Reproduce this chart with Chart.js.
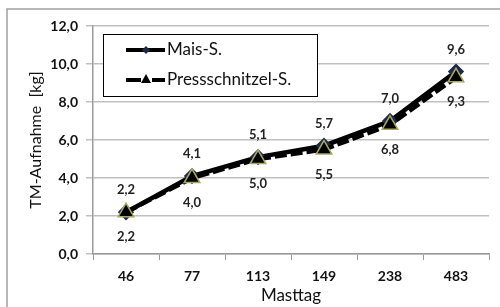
<!DOCTYPE html>
<html>
<head>
<meta charset="utf-8">
<script src="https://cdn.jsdelivr.net/npm/chart.js@4"></script>
<style>
  html, body { margin: 0; padding: 0; background: #fff; }
  #wrap { width: 500px; height: 307px; }
</style>
</head>
<body>
<div id="wrap"><canvas id="tmChart"></canvas></div>
<script>
const masttage = ["46", "77", "113", "149", "238", "483"];
const maisValues = [2.2, 4.1, 5.1, 5.7, 7.0, 9.6];
const pressValues = [2.2, 4.0, 5.0, 5.5, 6.8, 9.3];
const yTicks = [0, 2, 4, 6, 8, 10, 12];

const fmt = (v) => v.toFixed(1).replace(".", ",");
const fontFamily = "Lato, 'Open Sans', sans-serif";

// white background + the grey frame (top and left edge only)
const framePlugin = {
  id: "frame",
  beforeDraw(chart) {
    const ctx = chart.ctx;
    ctx.save();
    ctx.fillStyle = "#fff";
    ctx.fillRect(0, 0, chart.width, chart.height);
    ctx.strokeStyle = "#a0a0a0";
    ctx.lineWidth = 1.5;
    ctx.beginPath();
    ctx.moveTo(7, chart.height);
    ctx.lineTo(7, 9);
    ctx.lineTo(chart.width, 9);
    ctx.stroke();
    ctx.restore();
  },
};

// value labels: first series above the point, second below
const valueLabels = {
  id: "valueLabels",
  afterDatasetsDraw(chart) {
    const ctx = chart.ctx;
    ctx.save();
    ctx.font = "bold 13px " + fontFamily;
    ctx.fillStyle = "#222";
    ctx.textAlign = "center";
    ctx.textBaseline = "middle";
    chart.data.datasets.forEach((ds, i) => {
      const meta = chart.getDatasetMeta(i);
      meta.data.forEach((pt, j) => {
        const dy = ds.labelBelow ? 25 : -22;
        ctx.fillText(fmt(ds.data[j]), pt.x, pt.y + dy);
      });
    });
    ctx.restore();
  },
};

// legend box inside the plot, like the Excel original
const boxLegend = {
  id: "boxLegend",
  afterDraw(chart) {
    const ctx = chart.ctx;
    const x0 = 103, y0 = 34, w = 214, h = 62;
    ctx.save();
    ctx.fillStyle = "#fff";
    ctx.fillRect(x0, y0, w, h);
    ctx.strokeStyle = "#000";
    ctx.lineWidth = 1;
    ctx.strokeRect(x0 + 0.5, y0 + 0.5, w, h);

    const rows = [chart.data.datasets[0], chart.data.datasets[1]];
    const rowY = [50, 80];
    rows.forEach((ds, i) => {
      const y = rowY[i];
      ctx.strokeStyle = "#000";
      ctx.lineWidth = 4;
      ctx.beginPath();
      if (ds.borderDash) {
        ctx.moveTo(126, y); ctx.lineTo(141, y);
        ctx.moveTo(152, y); ctx.lineTo(165, y);
      } else {
        ctx.moveTo(126, y); ctx.lineTo(165, y);
      }
      ctx.stroke();
      ctx.fillStyle = ds.pointBackgroundColor;
      ctx.beginPath();
      if (ds.pointStyle === "triangle") {
        ctx.moveTo(146, y - 6); ctx.lineTo(151, y + 3); ctx.lineTo(141, y + 3);
      } else {
        ctx.moveTo(146, y - 4); ctx.lineTo(150, y); ctx.lineTo(146, y + 4); ctx.lineTo(142, y);
      }
      ctx.closePath();
      ctx.fill();

      ctx.fillStyle = "#111";
      ctx.font = "17px " + fontFamily;
      ctx.textAlign = "left";
      ctx.textBaseline = "middle";
      ctx.fillText(ds.label, 167, y);
    });
    ctx.restore();
  },
};

new Chart(document.getElementById("tmChart").getContext("2d"), {
  type: "line",
  data: {
    labels: masttage,
    datasets: [
      {
        label: "Mais-S.",
        data: maisValues,
        borderColor: "#000",
        borderWidth: 4.5,
        pointStyle: "rectRot",
        pointRadius: 5,
        pointBackgroundColor: "#1c2a4a",
        pointBorderColor: "#1c2a4a",
        order: 1,
      },
      {
        label: "Pressschnitzel-S.",
        data: pressValues,
        borderColor: "#000",
        borderWidth: 4.5,
        borderDash: [12, 4],
        pointStyle: "triangle",
        pointRadius: 9,
        pointBackgroundColor: "#000",
        pointBorderColor: "#a8a860",
        pointBorderWidth: 1.5,
        labelBelow: true,
        order: 0,
      },
    ],
  },
  options: {
    responsive: true,
    maintainAspectRatio: false,
    animation: false,
    layout: { padding: { left: 22, right: 11, top: 26, bottom: 0 } },
    plugins: {
      legend: { display: false },
      tooltip: { enabled: false },
    },
    scales: {
      x: {
        offset: true,
        grid: {
          offset: true,
          drawOnChartArea: false,
          tickLength: 6,
          color: "#999",
        },
        border: { color: "#999", width: 1.5 },
        ticks: {
          padding: 8,
          color: "#111",
          font: { family: fontFamily, size: 14, weight: "bold" },
        },
        title: {
          display: true,
          text: "Masttag",
          color: "#111",
          padding: { top: 0, bottom: 1 },
          font: { family: fontFamily, size: 17 },
        },
        afterFit(scale) { scale.height = 53; },
      },
      y: {
        min: 0,
        max: 12,
        afterBuildTicks(scale) {
          scale.ticks = yTicks.map((v) => ({ value: v }));
        },
        grid: {
          color: "#c0c0c0",
          lineWidth: 1.5,
          tickLength: 7,
        },
        border: { color: "#999", width: 1.5 },
        ticks: {
          padding: 8,
          color: "#111",
          font: { family: fontFamily, size: 14, weight: "bold" },
          callback: (v) => fmt(v),
        },
        title: {
          display: true,
          text: "TM-Aufnahme  [kg]",
          color: "#111",
          padding: { top: 4, bottom: 0 },
          font: { family: fontFamily, size: 16 },
        },
        afterFit(scale) { scale.width = 71; },
      },
    },
  },
  plugins: [framePlugin, valueLabels, boxLegend],
});
</script>
</body>
</html>
